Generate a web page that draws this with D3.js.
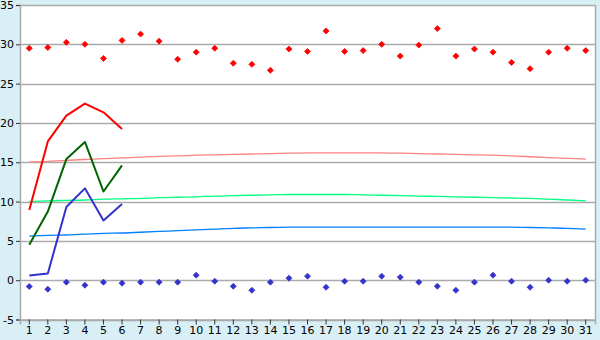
<!DOCTYPE html>
<html>
<head>
<meta charset="utf-8">
<script src="https://cdn.jsdelivr.net/npm/d3@7"></script>
<style>
  html, body { margin: 0; padding: 0; background: #d9eff6; }
  svg { display: block; font-family: "DejaVu Sans", Verdana, sans-serif; font-size: 11px; }
</style>
</head>
<body>
<div id="chart"></div>
<script>
const days = d3.range(1, 32);
const yTicks = [-5, 0, 5, 10, 15, 20, 25, 30, 35];

// daily max / min markers
const dailyMax = [29.5, 29.6, 30.25, 30.0, 28.2, 30.5, 31.3, 30.4, 28.1, 29.0,
  29.5, 27.6, 27.45, 26.7, 29.4, 29.1, 31.7, 29.1, 29.2, 30.0,
  28.5, 29.9, 32.0, 28.5, 29.4, 29.0, 27.7, 26.9, 29.0, 29.5, 29.2];
const dailyMin = [-0.8, -1.15, -0.25, -0.64, -0.25, -0.38, -0.25, -0.25, -0.25, 0.64,
  -0.13, -0.77, -1.28, -0.25, 0.26, 0.51, -0.9, -0.13, -0.13, 0.51,
  0.38, -0.25, -0.77, -1.28, -0.25, 0.64, -0.13, -0.9, 0.0, -0.13, 0.0];

// current month, first six days
const curMax = [8.94, 17.65, 20.93, 22.46, 21.35, 19.23];
const curMean = [4.5, 8.73, 15.4, 17.58, 11.28, 14.6];
const curMin = [0.6, 0.85, 9.3, 11.68, 7.6, 9.7];

// normals
const normMax = [15.0, 15.1, 15.25, 15.35, 15.45, 15.55, 15.65, 15.75, 15.8, 15.9,
  15.95, 16.0, 16.05, 16.1, 16.15, 16.2, 16.2, 16.2, 16.2, 16.2,
  16.15, 16.1, 16.05, 16.0, 15.95, 15.9, 15.8, 15.7, 15.6, 15.5, 15.4];
const normMean = [10.0, 10.1, 10.15, 10.2, 10.3, 10.35, 10.4, 10.5, 10.55, 10.6,
  10.7, 10.75, 10.8, 10.85, 10.9, 10.9, 10.9, 10.9, 10.85, 10.8,
  10.75, 10.7, 10.65, 10.6, 10.55, 10.5, 10.45, 10.4, 10.3, 10.2, 10.1];
const normMin = [5.6, 5.7, 5.75, 5.85, 5.95, 6.0, 6.1, 6.2, 6.3, 6.4,
  6.5, 6.6, 6.65, 6.7, 6.75, 6.75, 6.75, 6.75, 6.75, 6.75,
  6.75, 6.75, 6.75, 6.75, 6.75, 6.75, 6.75, 6.7, 6.65, 6.6, 6.5];

const width = 600;
const height = 340;
const plot = { left: 20, right: 595, top: 5, bottom: 319.5 };

const svg = d3.select('#chart')
  .append('svg')
  .attr('width', width)
  .attr('height', height);

const x = d3.scaleBand()
  .domain(days)
  .range([plot.left, plot.right]);

const y = d3.scaleLinear()
  .domain([-5, 35])
  .range([plot.bottom, plot.top]);

const cx = d => x(d) + x.bandwidth() / 2;

svg.append('rect')
  .attr('x', plot.left)
  .attr('y', plot.top)
  .attr('width', plot.right - plot.left)
  .attr('height', plot.bottom - plot.top)
  .attr('fill', '#ffffff');

// gridlines
svg.append('g')
  .selectAll('line')
  .data(yTicks)
  .enter()
  .append('line')
  .attr('x1', plot.left)
  .attr('x2', plot.right)
  .attr('y1', d => Math.round(y(d)) + 0.5)
  .attr('y2', d => Math.round(y(d)) + 0.5)
  .attr('stroke', '#aaaaaa')
  .attr('stroke-width', 1.5);

svg.append('line')
  .attr('x1', plot.right + 0.5).attr('x2', plot.right + 0.5)
  .attr('y1', plot.top).attr('y2', plot.bottom)
  .attr('stroke', '#aaaaaa').attr('stroke-width', 1.5);

// axes
const yAxis = svg.append('g')
  .attr('transform', `translate(${plot.left},0)`)
  .call(d3.axisLeft(y).tickValues(yTicks).tickSize(4).tickPadding(2).tickFormat(d => String(d)));

const xAxis = svg.append('g')
  .attr('transform', `translate(0,${plot.bottom})`)
  .call(d3.axisBottom(x).tickSize(5).tickPadding(2));

[yAxis, xAxis].forEach(ax => {
  ax.select('.domain').attr('stroke', '#aaaaaa').attr('stroke-width', 1.5);
  ax.selectAll('.tick line').attr('stroke', '#333333');
  ax.selectAll('.tick text')
    .attr('fill', '#000000')
    .style('font-size', '11px')
    .style('font-family', '"DejaVu Sans", Verdana, sans-serif');
});

// normals
const normalLine = d3.line()
  .x((d, i) => cx(days[i]))
  .y(d => y(d))
  .curve(d3.curveMonotoneX);

[[normMax, '#ff8080'], [normMean, '#00ff80'], [normMin, '#0080ff']].forEach(([data, color]) => {
  svg.append('path')
    .datum(data)
    .attr('fill', 'none')
    .attr('stroke', color)
    .attr('stroke-width', 1.3)
    .attr('d', normalLine);
});

// current values
const curLine = d3.line()
  .x((d, i) => cx(days[i]))
  .y(d => y(d));

[[curMax, '#ff0000'], [curMean, '#006400'], [curMin, '#3333cc']].forEach(([data, color]) => {
  svg.append('path')
    .datum(data)
    .attr('fill', 'none')
    .attr('stroke', color)
    .attr('stroke-width', 2)
    .attr('stroke-linejoin', 'round')
    .attr('d', curLine);
});

// markers
const marker = 'M0,-3L3,0L0,3L-3,0Z';

[[dailyMax, '#ff0000'], [dailyMin, '#3333cc']].forEach(([data, color]) => {
  svg.append('g')
    .selectAll('path')
    .data(data)
    .enter()
    .append('path')
    .attr('transform', (d, i) => `translate(${cx(days[i])},${y(d)})`)
    .attr('d', marker)
    .attr('fill', color)
    .attr('stroke', color)
    .attr('stroke-width', 0.8);
});
</script>
</body>
</html>
